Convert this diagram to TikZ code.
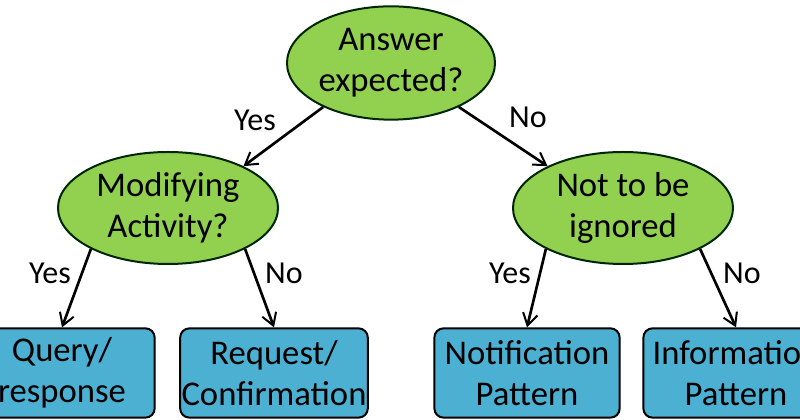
\documentclass[tikz,border=0pt]{standalone}
\usepackage{fontspec}
\setmainfont{Carlito}
\usetikzlibrary{arrows.meta,shapes.geometric}

\definecolor{qgreen}{HTML}{92D050}
\definecolor{pblue}{HTML}{4BB0D2}

\tikzset{
	question/.style={ellipse, draw=black!85!green, line width=1.5pt, fill=qgreen, inner sep=0pt, align=center, font=\fontsize{26}{31}\selectfont},
	pattern/.style={rectangle, rounded corners=7pt, draw=black, line width=1.5pt, fill=pblue, inner xsep=1pt, minimum width=139pt, minimum height=67pt, align=center, font=\fontsize{26}{31}\selectfont},
	answer/.style={font=\fontsize{24}{28}\selectfont, inner sep=0pt},
}

\begin{document}
\begin{tikzpicture}[x=0.75pt, y=0.75pt, >={Straight Barb[length=9pt, width=11pt, line width=1.5pt]}]
	\path[use as bounding box, clip] (0,0) rectangle (800,420);
	\fill[white] (0,0) rectangle (800,420);
	% questions
	\node[question, minimum width=156pt, minimum height=85pt] (ans) at (391,357) {Answer\\expected?};
	\node[question, minimum width=165pt, minimum height=84pt] (modif) at (168,212) {Modifying\\Activity?};
	\node[question, minimum width=165pt, minimum height=84pt] (ignor) at (623,212) {Not to be\\ignored};
	% patterns
	\node[pattern] (query) at (62,47) {Query/\\response};
	\node[pattern] (request) at (274,47) {Request/\\Confirmation};
	\node[pattern] (notif) at (527,47) {Notification\\Pattern};
	\node[pattern] (inform) at (736,47) {Information\\Pattern};
	% decisions
	\draw[->, line width=2pt] (ans.213) -- (modif.29);
	\draw[->, line width=2pt] (ans.327) -- (ignor.151);
	\draw[->, line width=2pt] (modif.208) -- (query.north);
	\draw[->, line width=2pt] (modif.332) -- (request.north);
	\draw[->, line width=2pt] (ignor.208) -- (notif.north);
	\draw[->, line width=2pt] (ignor.332) -- (inform.north);
	\node[answer] (yes1) at (255,300) {Yes};
	\node[answer] (no1) at (528,303) {No};
	\node[answer] (yes2) at (50,147) {Yes};
	\node[answer] (no2) at (284,147) {No};
	\node[answer] (yes3) at (510,147) {Yes};
	\node[answer] (no3) at (742,147) {No};
\end{tikzpicture}
\end{document}
